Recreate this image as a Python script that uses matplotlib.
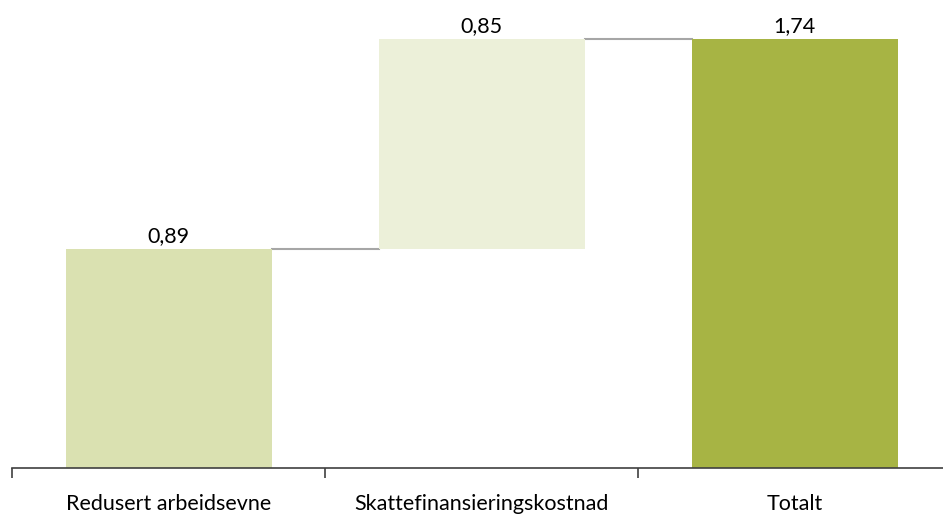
import matplotlib
matplotlib.use("Agg")
import matplotlib.pyplot as plt

categories = ["Redusert arbeidsevne", "Skattefinansieringskostnad", "Totalt"]
values = [0.89, 0.85, 1.74]
labels = ["0,89", "0,85", "1,74"]
colors = ["#dae1b1", "#ecf0d9", "#a7b444"]

W, H = 943, 514
fig = plt.figure(figsize=(W / 100, H / 100), dpi=100)
ax_left, ax_right = 12 / W, 951 / W
ax_bottom = 1 - 468 / H
ax = fig.add_axes([ax_left, ax_bottom, ax_right - ax_left, 1 - ax_bottom])

scale = (468 - 39) / 1.74
ax.set_ylim(0, 468 / scale)
ax.set_xlim(0, 3)

bottoms = [0, values[0], 0]
xs = [0.5, 1.5, 2.5]
bw = 206 / 313
ax.bar(xs, values, width=bw, bottom=bottoms, color=colors, zorder=2)

# connectors
tops = [b + v for b, v in zip(bottoms, values)]
ax.plot([xs[0] + bw / 2, xs[1] - bw / 2], [tops[0], tops[0]], color="#a6a6a6", lw=1.5, zorder=1)
ax.plot([xs[1] + bw / 2, xs[2] - bw / 2], [tops[1], tops[1]], color="#a6a6a6", lw=1.5, zorder=1)

for x, t, lab in zip(xs, tops, labels):
    ax.text(x, t + 0.012, lab, ha="center", va="bottom", fontsize=15.5, family="Lato", color="#000000")

for s in ["top", "right", "left"]:
    ax.spines[s].set_visible(False)
ax.spines["bottom"].set_color("#404040")
ax.spines["bottom"].set_linewidth(1.2)
ax.set_yticks([])
ax.set_xticks([0, 1, 2, 3])
ax.set_xticklabels([])
ax.set_xticks(xs, minor=True)
ax.set_xticklabels(categories, minor=True, fontsize=15.5, family="Lato")
ax.tick_params(axis="x", which="major", length=7, width=1.2, color="#404040", direction="out")
ax.tick_params(axis="x", which="minor", length=0, pad=19)

fig.savefig("out.png", dpi=100)
